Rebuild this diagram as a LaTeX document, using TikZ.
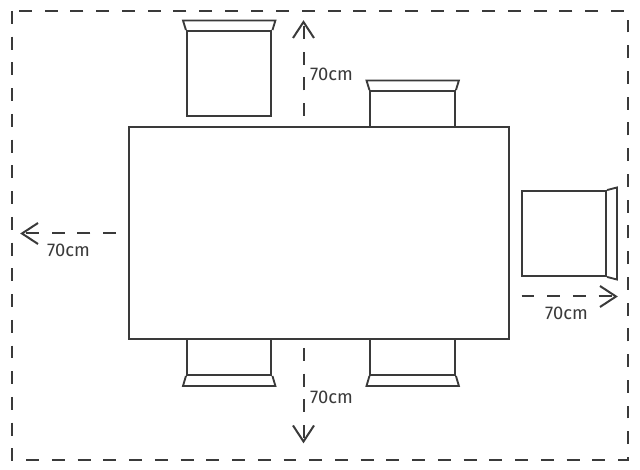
\documentclass[tikz,border=0pt]{standalone}
\usepackage{fontspec}
\setmainfont{Fira Sans}
\definecolor{ink}{HTML}{3A3A3A}
\tikzset{
  plan/.style={draw=ink,line width=1.5pt,line join=miter},
  backrest/.style={draw=ink,line width=1.4pt,line join=miter},
  limit/.style={draw=ink,line width=1.6pt,dash pattern=on 9.7pt off 9.6pt},
  reach/.style={draw=ink,line width=1.5pt,dash pattern=on 9.7pt off 9.6pt},
  barb/.style={draw=ink,line width=1.5pt,line join=miter},
  measure/.style={text=ink,font=\fontsize{13.8pt}{15pt}\selectfont,inner sep=0pt},
}
\begin{document}
\begin{tikzpicture}[x=0.75pt,y=-0.75pt]
\useasboundingbox (0,0) rectangle (640,470);
\draw[limit] (12,11) rectangle (628,460);
% table
\node[plan,minimum width=285pt,minimum height=159pt,inner sep=0pt] (table) at (319,233) {};
% top chairs
\node[plan,minimum width=63.4pt,minimum height=63.7pt,inner sep=0pt] (seatA) at (229.2,73.5) {};
\draw[backrest] (seatA.north west) -- (183,20.5) -- (275.4,20.5) -- (seatA.north east);
\node[plan,minimum width=63.4pt,minimum height=27pt,inner sep=0pt] (seatB) at (412.7,109) {};
\draw[backrest] (seatB.north west) -- (366.5,80.5) -- (458.9,80.5) -- (seatB.north east);
% bottom chairs
\node[plan,minimum width=63.4pt,minimum height=27pt,inner sep=0pt] (seatC) at (229.2,357) {};
\draw[backrest] (seatC.south west) -- (183,386) -- (275.4,386) -- (seatC.south east);
\node[plan,minimum width=63.4pt,minimum height=27pt,inner sep=0pt] (seatD) at (412.7,357) {};
\draw[backrest] (seatD.south west) -- (366.5,386) -- (458.9,386) -- (seatD.south east);
% right chair
\node[plan,minimum width=63.4pt,minimum height=63.7pt,inner sep=0pt] (seatE) at (563.8,233.5) {};
\draw[backrest] (seatE.north east) -- (617,187.5) -- (617,279.5) -- (seatE.south east);
% clearance arrows
\coordinate (upS) at (303.5,116);   \coordinate (upT) at (303.5,22);
\coordinate (dnS) at (303.5,348);   \coordinate (dnT) at (303.5,441.5);
\coordinate (ltS) at (116,233.5);   \coordinate (ltT) at (22,233.5);
\coordinate (rtS) at (521.5,296.5); \coordinate (rtT) at (616,296.5);
\draw[reach] (upS) -- (upT);
\draw[reach] (dnS) -- (dnT);
\draw[reach] (ltS) -- (ltT);
\draw[reach] (rtS) -- (rtT);
\draw[barb] ([shift={(-10.5,16)}]upT) -- (upT) -- ([shift={(10.5,16)}]upT);
\draw[barb] ([shift={(-10.5,-16)}]dnT) -- (dnT) -- ([shift={(10.5,-16)}]dnT);
\draw[barb] ([shift={(16,-10.5)}]ltT) -- (ltT) -- ([shift={(16,10.5)}]ltT);
\draw[barb] ([shift={(-16,-10.5)}]rtT) -- (rtT) -- ([shift={(-16,10.5)}]rtT);
\node[measure] (l1) at (331.5,74.5) {70cm};
\node[measure] (l2) at (331.5,397) {70cm};
\node[measure] (l3) at (68.5,250) {70cm};
\node[measure] (l4) at (566.5,313) {70cm};
\end{tikzpicture}
\end{document}
